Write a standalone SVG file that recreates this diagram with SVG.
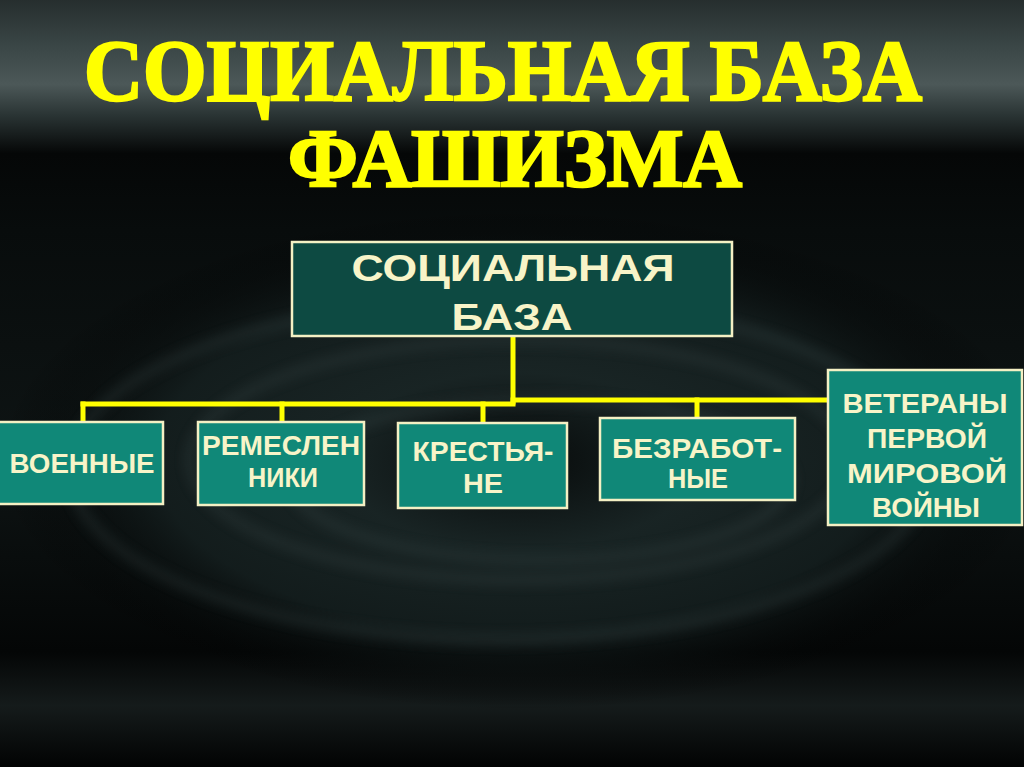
<svg xmlns="http://www.w3.org/2000/svg" width="1024" height="767" viewBox="0 0 1024 767">
<defs>
<linearGradient id="bg" x1="0" y1="0" x2="0" y2="1">
<stop offset="0" stop-color="#262e2e"/>
<stop offset="0.06" stop-color="#3a4646"/>
<stop offset="0.11" stop-color="#4c5858"/>
<stop offset="0.15" stop-color="#2a3434"/>
<stop offset="0.2" stop-color="#050707"/>
<stop offset="0.3" stop-color="#080c0c"/>
<stop offset="0.6" stop-color="#0e1414"/>
<stop offset="0.85" stop-color="#040606"/>
<stop offset="0.92" stop-color="#151b1b"/>
<stop offset="1" stop-color="#020303"/>
</linearGradient>
<radialGradient id="swirl" cx="0.5" cy="0.5" r="0.5">
<stop offset="0" stop-color="#070a0a"/>
<stop offset="0.35" stop-color="#1a2626"/>
<stop offset="0.7" stop-color="#141e1e"/>
<stop offset="1" stop-color="#000" stop-opacity="0"/>
</radialGradient>
<filter id="blur" x="-10%" y="-20%" width="120%" height="140%"><feGaussianBlur stdDeviation="6"/></filter>
<style>
.title{font-family:"Liberation Serif","DejaVu Serif",serif;font-weight:bold;fill:#ffff00;stroke:#ffff00;stroke-width:2.5}
.box{fill:#108878;stroke:#f4f0c4;stroke-width:2.5}
.top{fill:#0d4a42;stroke:#f4f0c4;stroke-width:2.5}
.t{font-family:"Liberation Sans",Arial,sans-serif;font-weight:bold;font-size:28px;fill:#f8f4c8}
.tt{font-family:"Liberation Sans",Arial,sans-serif;font-weight:bold;font-size:36px;fill:#f8f4c8}
.c{stroke:#ffff00;stroke-width:5;fill:none;stroke-linecap:square}
</style>
</defs>
<rect width="1024" height="767" fill="url(#bg)"/>
<ellipse cx="520" cy="460" rx="520" ry="250" fill="url(#swirl)" opacity="0.9"/>
<g fill="none" stroke="#3a4a4a" stroke-width="10" opacity="0.3" filter="url(#blur)">
<ellipse cx="500" cy="470" rx="430" ry="170"/>
<ellipse cx="520" cy="460" rx="330" ry="120"/>
<ellipse cx="540" cy="480" rx="250" ry="80"/>
</g>
<g id="title">
<text class="title" x="503" y="100" font-size="86" text-anchor="middle" textLength="838" lengthAdjust="spacingAndGlyphs">СОЦИАЛЬНАЯ БАЗА</text>
<text class="title" x="515" y="186" font-size="82" text-anchor="middle" textLength="454" lengthAdjust="spacingAndGlyphs">ФАШИЗМА</text>
</g>
<g id="connectors">
<line class="c" x1="513" y1="337" x2="513" y2="402"/>
<line class="c" x1="83" y1="404" x2="513" y2="404"/>
<line class="c" x1="513" y1="400" x2="826" y2="400"/>
<line class="c" x1="83" y1="404" x2="83" y2="420"/>
<line class="c" x1="282" y1="404" x2="282" y2="420"/>
<line class="c" x1="483" y1="404" x2="483" y2="422"/>
<line class="c" x1="697" y1="400" x2="697" y2="417"/>
</g>
<g id="root">
<rect class="top" x="292" y="242" width="440" height="94"/>
<text class="tt" x="513" y="281" text-anchor="middle" textLength="323" lengthAdjust="spacingAndGlyphs">СОЦИАЛЬНАЯ</text>
<text class="tt" x="512" y="330" text-anchor="middle" textLength="121" lengthAdjust="spacingAndGlyphs">БАЗА</text>
</g>
<g id="n1">
<rect class="box" x="-2" y="422" width="165" height="82"/>
<text class="t" x="82" y="473" text-anchor="middle" textLength="145" lengthAdjust="spacingAndGlyphs">ВОЕННЫЕ</text>
</g>
<g id="n2">
<rect class="box" x="198" y="422" width="166" height="83"/>
<text class="t" x="281" y="455" text-anchor="middle" textLength="158" lengthAdjust="spacingAndGlyphs">РЕМЕСЛЕН</text>
<text class="t" x="283" y="487" text-anchor="middle" textLength="70" lengthAdjust="spacingAndGlyphs">НИКИ</text>
</g>
<g id="n3">
<rect class="box" x="398" y="423" width="169" height="85"/>
<text class="t" x="483" y="461" text-anchor="middle" textLength="141" lengthAdjust="spacingAndGlyphs">КРЕСТЬЯ-</text>
<text class="t" x="483" y="493" text-anchor="middle" textLength="40" lengthAdjust="spacingAndGlyphs">НЕ</text>
</g>
<g id="n4">
<rect class="box" x="600" y="418" width="195" height="82"/>
<text class="t" x="697" y="458" text-anchor="middle" textLength="170" lengthAdjust="spacingAndGlyphs">БЕЗРАБОТ-</text>
<text class="t" x="698" y="488" text-anchor="middle" textLength="60" lengthAdjust="spacingAndGlyphs">НЫЕ</text>
</g>
<g id="n5">
<rect class="box" x="828" y="370" width="194" height="155"/>
<text class="t" x="925" y="413" text-anchor="middle" textLength="165" lengthAdjust="spacingAndGlyphs">ВЕТЕРАНЫ</text>
<text class="t" x="927" y="448" text-anchor="middle" textLength="120" lengthAdjust="spacingAndGlyphs">ПЕРВОЙ</text>
<text class="t" x="927" y="483" text-anchor="middle" textLength="160" lengthAdjust="spacingAndGlyphs">МИРОВОЙ</text>
<text class="t" x="926" y="517" text-anchor="middle" textLength="108" lengthAdjust="spacingAndGlyphs">ВОЙНЫ</text>
</g>
</svg>
